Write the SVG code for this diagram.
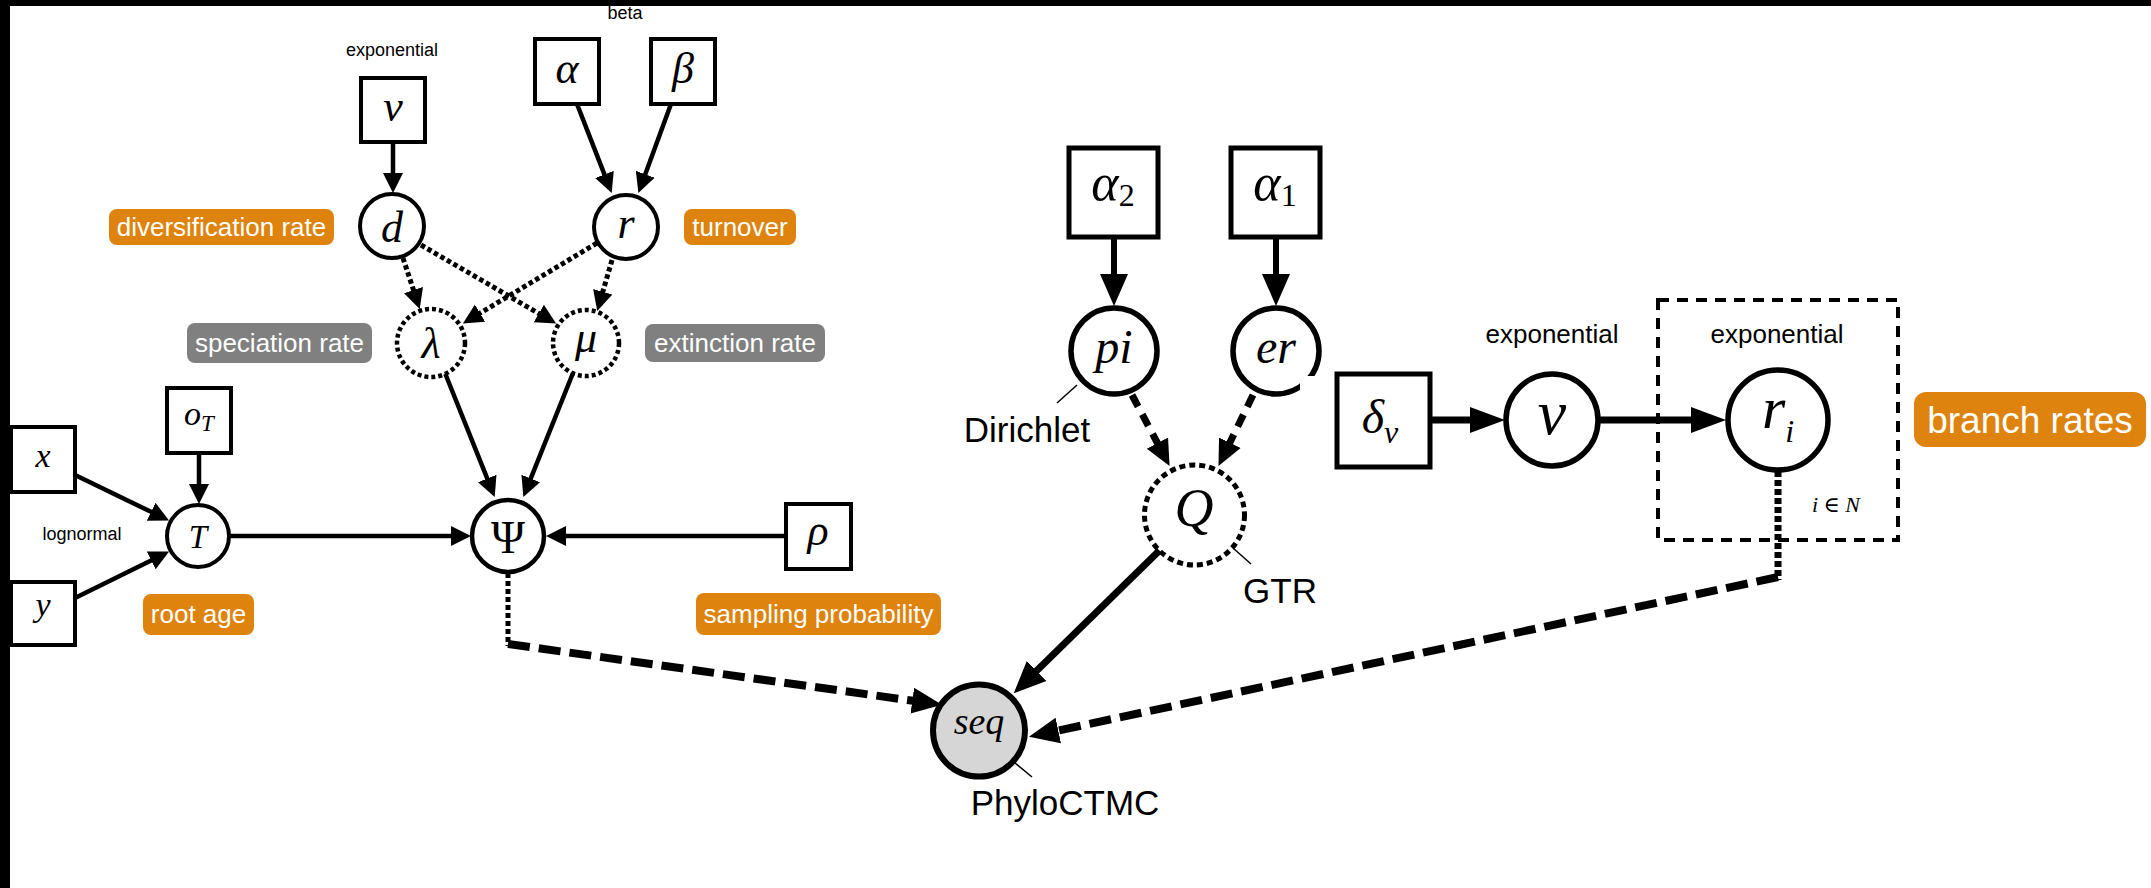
<svg xmlns="http://www.w3.org/2000/svg" width="2151" height="888" viewBox="0 0 2151 888">
<style>
.bx{fill:#fff;stroke:#000;stroke-width:4}
.bxt{fill:#fff;stroke:#000;stroke-width:5}
.nd{fill:#fff;stroke:#000;stroke-width:4}
.ndt{fill:#fff;stroke:#000;stroke-width:5.5}
.dot{fill:#fff;stroke:#000;stroke-width:4.5;stroke-dasharray:4 3}
.m{font-family:"Liberation Serif","DejaVu Serif",serif;font-style:italic;text-anchor:middle;fill:#000}
.mu{font-family:"Liberation Serif","DejaVu Serif",serif;text-anchor:middle;fill:#000}
.s{font-family:"Liberation Sans",Arial,sans-serif;text-anchor:middle;fill:#000}
.lb{font-family:"Liberation Sans",Arial,sans-serif;text-anchor:middle;fill:#fff;font-size:26px}
.or{fill:#de830d}
.gr{fill:#808080}
.e1{fill:none;stroke:#000;stroke-width:4.5;marker-end:url(#a1)}
.ed{fill:none;stroke:#000;stroke-width:5;stroke-dasharray:4.5 3;marker-end:url(#a1)}
.e2{fill:none;stroke:#000;stroke-width:6;marker-end:url(#a2)}
.e3{fill:none;stroke:#000;stroke-width:7;marker-end:url(#a3)}
.eq{fill:none;stroke:#000;stroke-width:7;stroke-dasharray:13 9;marker-end:url(#a4)}
.vd{fill:none;stroke:#000;stroke-width:5;stroke-dasharray:5 3}
.vd2{fill:none;stroke:#000;stroke-width:7;stroke-dasharray:6 3}
.dd{fill:none;stroke:#000;stroke-width:8;stroke-dasharray:22 9;marker-end:url(#a5)}
.ld{fill:none;stroke:#000;stroke-width:1.5}
</style>
<defs>
<marker id="a1" markerUnits="userSpaceOnUse" markerWidth="22" markerHeight="22" viewBox="0 -11 22 22" refX="1" refY="0" orient="auto"><path d="M0,-10 L20,0 L0,10 z" fill="#000"/></marker>
<marker id="a2" markerUnits="userSpaceOnUse" markerWidth="34" markerHeight="30" viewBox="0 -15 34 30" refX="1" refY="0" orient="auto"><path d="M0,-14 L32,0 L0,14 z" fill="#000"/></marker>
<marker id="a3" markerUnits="userSpaceOnUse" markerWidth="37" markerHeight="28" viewBox="0 -14 37 28" refX="1" refY="0" orient="auto"><path d="M0,-13 L35,0 L0,13 z" fill="#000"/></marker>
<marker id="a4" markerUnits="userSpaceOnUse" markerWidth="28" markerHeight="26" viewBox="0 -13 28 26" refX="1" refY="0" orient="auto"><path d="M0,-12 L26,0 L0,12 z" fill="#000"/></marker>
<marker id="a5" markerUnits="userSpaceOnUse" markerWidth="32" markerHeight="28" viewBox="0 -14 32 28" refX="1" refY="0" orient="auto"><path d="M0,-13 L30,0 L0,13 z" fill="#000"/></marker>
</defs>
<rect x="0" y="0" width="2151" height="888" fill="#fff"/>
<rect x="0" y="0" width="2151" height="6" fill="#000"/>
<rect x="0" y="0" width="10" height="888" fill="#000"/>

<g id="connectors">
<line class="e1" x1="393" y1="142" x2="393" y2="174"/>
<line class="e1" x1="577" y1="104" x2="604.8" y2="175.4"/>
<line class="e1" x1="671" y1="104" x2="644.9" y2="175.2"/>
<line class="ed" x1="403" y1="258" x2="413.8" y2="291"/>
<line class="ed" x1="421" y1="245" x2="539.7" y2="314"/>
<line class="ed" x1="597" y1="243" x2="479.2" y2="313.7"/>
<line class="ed" x1="612" y1="260" x2="602.5" y2="292.8"/>
<line class="e1" x1="445" y1="373" x2="487.6" y2="479.4"/>
<line class="e1" x1="573" y1="373" x2="530.4" y2="479.4"/>
<line class="e1" x1="75" y1="475" x2="152" y2="512.3"/>
<line class="e1" x1="75" y1="598" x2="152.1" y2="559.9"/>
<line class="e1" x1="199" y1="453" x2="199" y2="485"/>
<line class="e1" x1="229" y1="536" x2="452" y2="536"/>
<line class="e1" x1="786" y1="536" x2="565" y2="536"/>
<line class="vd" x1="508" y1="573" x2="508" y2="646"/>
<line class="dd" x1="508" y1="644" x2="913.3" y2="700.8"/>
<line class="e2" x1="1114" y1="237" x2="1114" y2="275"/>
<line class="e2" x1="1276" y1="237" x2="1276" y2="275"/>
<line class="eq" x1="1132" y1="395" x2="1157.9" y2="444"/>
<line class="eq" x1="1253" y1="395" x2="1229.4" y2="443.6"/>
<line class="e3" x1="1430" y1="420" x2="1471" y2="420"/>
<line class="e3" x1="1598" y1="420" x2="1692" y2="420"/>
<line class="e2" x1="1162" y1="548" x2="1035.9" y2="671.6" style="stroke-width:7"/>
<line class="vd2" x1="1778" y1="471" x2="1778" y2="580"/>
<line class="dd" x1="1778" y1="577" x2="1057.3" y2="730.7"/>
<line class="ld" x1="1057" y1="403" x2="1077" y2="385"/>
<line class="ld" x1="1233" y1="548" x2="1251" y2="564"/>
<line class="ld" x1="1015" y1="763" x2="1032" y2="777"/>
</g>

<g id="plate"><rect x="1658" y="300" width="240" height="240" fill="none" stroke="#000" stroke-width="4" stroke-dasharray="11 8"/>
<text class="m" x="1836" y="512" font-size="22">i ∈ N</text></g>

<g id="lbl-beta"><text class="s" x="625" y="19" font-size="18">beta</text></g>
<g id="lbl-exp1"><text class="s" x="392" y="56" font-size="18">exponential</text></g>
<g id="lbl-lognormal"><text class="s" x="82" y="540" font-size="18">lognormal</text></g>

<g id="node-nu"><rect class="bx" x="361" y="78" width="64" height="64"/><text class="m" x="393" y="121" font-size="44">ν</text></g>
<g id="node-alpha"><rect class="bx" x="535" y="39" width="64" height="65"/><text class="m" x="567" y="83" font-size="44">α</text></g>
<g id="node-beta"><rect class="bx" x="651" y="39" width="64" height="65"/><text class="m" x="683" y="83" font-size="44">β</text></g>
<g id="node-d"><circle class="nd" cx="392" cy="226" r="32"/><text class="m" x="392" y="242" font-size="44">d</text></g>
<g id="node-r"><circle class="nd" cx="626" cy="227" r="32"/><text class="m" x="626" y="238" font-size="44">r</text></g>
<g id="node-lambda"><circle class="dot" cx="431" cy="343" r="34"/><text class="m" x="431" y="358" font-size="44">λ</text></g>
<g id="node-mu"><circle class="dot" cx="586" cy="343" r="33"/><text class="m" x="586" y="352" font-size="44">μ</text></g>
<g id="node-x"><rect class="bx" x="11" y="427" width="64" height="65"/><text class="m" x="43" y="467" font-size="34">x</text></g>
<g id="node-y"><rect class="bx" x="11" y="582" width="64" height="63"/><text class="m" x="43" y="616" font-size="34">y</text></g>
<g id="node-oT"><rect class="bx" x="167" y="388" width="64" height="65"/><text class="m" x="199" y="425" font-size="34">o<tspan font-size="23" dy="6">T</tspan></text></g>
<g id="node-T"><circle class="nd" cx="198" cy="536" r="31"/><text class="m" x="198" y="548" font-size="33">T</text></g>
<g id="node-Psi"><circle class="nd" cx="508" cy="536" r="36" style="stroke-width:4.5"/><text class="mu" x="508" y="553" font-size="46">Ψ</text></g>
<g id="node-rho"><rect class="bx" x="786" y="504" width="65" height="65"/><text class="m" x="818" y="545" font-size="44">ρ</text></g>

<g id="lbl-div"><rect class="or" x="109" y="209" width="225" height="36" rx="8"/><text class="lb" x="221.5" y="236">diversification rate</text></g>
<g id="lbl-turn"><rect class="or" x="684" y="209" width="112" height="36" rx="8"/><text class="lb" x="740" y="236">turnover</text></g>
<g id="lbl-spec"><rect class="gr" x="187" y="323" width="185" height="40" rx="8"/><text class="lb" x="279.5" y="352">speciation rate</text></g>
<g id="lbl-ext"><rect class="gr" x="645" y="324" width="180" height="38" rx="8"/><text class="lb" x="735" y="352">extinction rate</text></g>
<g id="lbl-root"><rect class="or" x="143" y="594" width="111" height="41" rx="8"/><text class="lb" x="198.5" y="623">root age</text></g>
<g id="lbl-samp"><rect class="or" x="696" y="593" width="245" height="42" rx="8"/><text class="lb" x="818.5" y="623">sampling probability</text></g>

<g id="node-alpha2"><rect class="bxt" x="1069" y="148" width="89" height="89"/><text class="m" x="1113" y="200" font-size="52">α<tspan font-size="32" font-style="normal" dy="6">2</tspan></text></g>
<g id="node-alpha1"><rect class="bxt" x="1231" y="148" width="89" height="89"/><text class="m" x="1275" y="200" font-size="52">α<tspan font-size="32" font-style="normal" dy="6">1</tspan></text></g>
<g id="node-pi"><circle class="ndt" cx="1114" cy="351" r="43"/><text class="m" x="1114" y="363" font-size="48">pi</text></g>
<g id="node-er"><circle class="ndt" cx="1276" cy="351" r="43"/><text class="m" x="1276" y="363" font-size="48">er</text><rect x="1300" y="376" width="18" height="14" fill="#fff"/></g>
<g id="lbl-dirichlet"><text class="s" x="1027" y="442" font-size="35">Dirichlet</text></g>
<g id="node-Q"><circle class="dot" cx="1194.5" cy="515" r="50" style="stroke-width:5;stroke-dasharray:6 4"/><text class="m" x="1194" y="526" font-size="54">Q</text></g>
<g id="lbl-gtr"><text class="s" x="1280" y="603" font-size="35">GTR</text></g>
<g id="node-deltanu"><rect class="bxt" x="1337" y="374" width="93" height="93"/><text class="m" x="1380" y="433" font-size="48">δ<tspan font-size="32" dy="10">ν</tspan></text></g>
<g id="lbl-exp2"><text class="s" x="1552" y="343" font-size="26">exponential</text></g>
<g id="node-nu2"><circle class="ndt" cx="1552" cy="420" r="46"/><text class="m" x="1552" y="434" font-size="64">ν</text></g>
<g id="lbl-exp3"><text class="s" x="1777" y="343" font-size="26">exponential</text></g>
<g id="node-ri"><circle class="ndt" cx="1778" cy="420" r="50"/><text class="m" x="1778" y="428" font-size="60">r<tspan font-size="32" dy="14">i</tspan></text></g>
<g id="lbl-branch"><rect class="or" x="1914" y="392" width="232" height="55" rx="12"/><text class="lb" x="2030" y="433" style="font-size:37px">branch rates</text></g>
<g id="node-seq"><circle cx="979" cy="730.5" r="46" fill="#d6d6d6" stroke="#000" stroke-width="6"/><text class="m" x="979" y="734" font-size="38">seq</text></g>
<g id="lbl-phylo"><text class="s" x="1065" y="815" font-size="35">PhyloCTMC</text></g>
</svg>
